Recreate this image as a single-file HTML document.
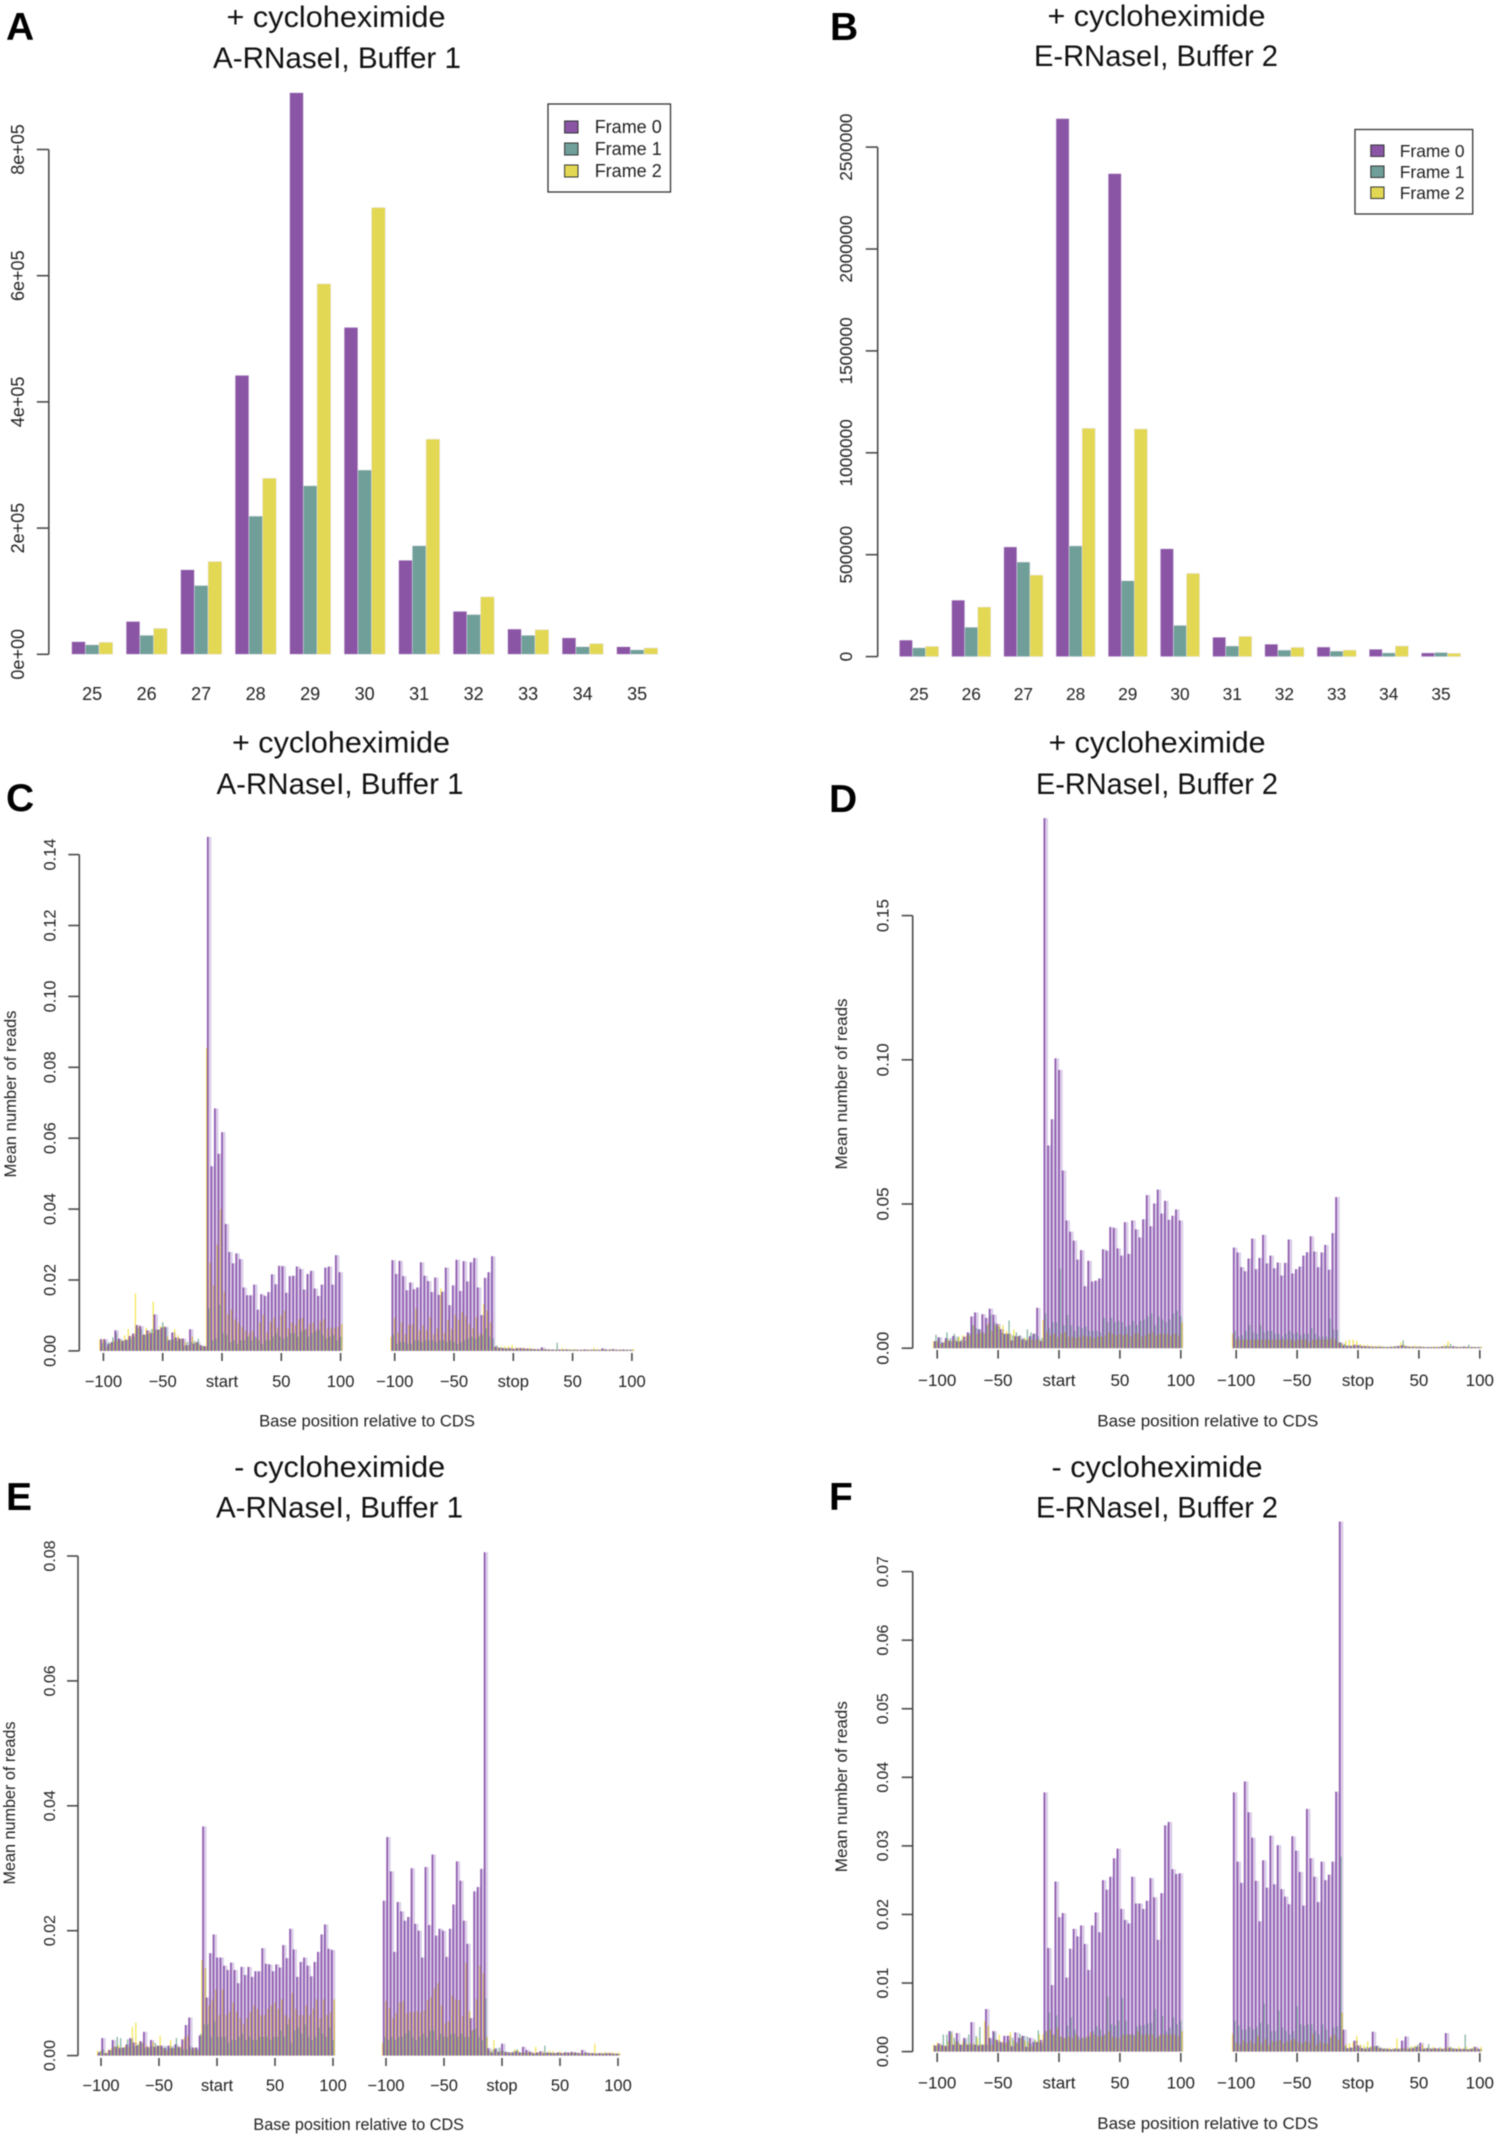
<!DOCTYPE html>
<html lang="en">
<head>
<meta charset="utf-8">
<title>Ribosome footprint frame distribution and metagene profiles</title>
<style>
html,body{margin:0;padding:0;background:#fff;}
body{width:1497px;height:2137px;overflow:hidden;}
svg{display:block;filter:blur(0.5px);font-family:"Liberation Sans",Arial,sans-serif;}
.title{font-size:30px;fill:#111;text-anchor:middle;}
.letter{font-size:39px;font-weight:bold;fill:#000;}
.legend-text{fill:#222;}
</style>
</head>
<body>
<svg id="figure" width="1497" height="2137" viewBox="0 0 1497 2137">
  <rect x="0" y="0" width="1497" height="2137" fill="#fff"/>

  <text class="letter" x="6" y="40">A</text>
  <text class="title" x="336" y="27" textLength="219" lengthAdjust="spacingAndGlyphs">+ cycloheximide</text>
  <text class="title" x="337" y="68" textLength="248" lengthAdjust="spacingAndGlyphs">A-RNaseI, Buffer 1</text>

  <text class="letter" x="830" y="40">B</text>
  <text class="title" x="1156.5" y="26" textLength="218" lengthAdjust="spacingAndGlyphs">+ cycloheximide</text>
  <text class="title" x="1156" y="66" textLength="244" lengthAdjust="spacingAndGlyphs">E-RNaseI, Buffer 2</text>

  <text class="letter" x="6" y="811">C</text>
  <text class="title" x="341" y="752.5" textLength="218" lengthAdjust="spacingAndGlyphs">+ cycloheximide</text>
  <text class="title" x="340" y="794" textLength="247" lengthAdjust="spacingAndGlyphs">A-RNaseI, Buffer 1</text>

  <text class="letter" x="829" y="812">D</text>
  <text class="title" x="1157" y="752.5" textLength="217" lengthAdjust="spacingAndGlyphs">+ cycloheximide</text>
  <text class="title" x="1157" y="794" textLength="242" lengthAdjust="spacingAndGlyphs">E-RNaseI, Buffer 2</text>

  <text class="letter" x="6" y="1510">E</text>
  <text class="title" x="339.7" y="1477" textLength="211" lengthAdjust="spacingAndGlyphs">- cycloheximide</text>
  <text class="title" x="339.5" y="1517.5" textLength="247" lengthAdjust="spacingAndGlyphs">A-RNaseI, Buffer 1</text>

  <text class="letter" x="829" y="1510">F</text>
  <text class="title" x="1157" y="1477" textLength="211" lengthAdjust="spacingAndGlyphs">- cycloheximide</text>
  <text class="title" x="1157" y="1517.5" textLength="242" lengthAdjust="spacingAndGlyphs">E-RNaseI, Buffer 2</text>

  <g>
    <rect x="548" y="104" width="122.5" height="88" fill="#fff" stroke="#333" stroke-width="1.3"/>
    <rect x="564.6" y="121" width="13.4" height="12" fill="#8a55a5" stroke="#333" stroke-width="1"/>
    <rect x="564.6" y="143" width="13.4" height="12" fill="#6f9f98" stroke="#333" stroke-width="1"/>
    <rect x="564.6" y="165" width="13.4" height="12" fill="#e3d853" stroke="#333" stroke-width="1"/>
    <text class="legend-text" x="594.7" y="133" font-size="18">Frame 0</text>
    <text class="legend-text" x="594.7" y="155" font-size="18">Frame 1</text>
    <text class="legend-text" x="594.7" y="177" font-size="18">Frame 2</text>
  </g>
  <g>
    <rect x="1355" y="129.5" width="117.7" height="84.5" fill="#fff" stroke="#333" stroke-width="1.3"/>
    <rect x="1370.8" y="145" width="13.2" height="11.5" fill="#8a55a5" stroke="#333" stroke-width="1"/>
    <rect x="1370.8" y="166" width="13.2" height="11.5" fill="#6f9f98" stroke="#333" stroke-width="1"/>
    <rect x="1370.8" y="187" width="13.2" height="11.5" fill="#e3d853" stroke="#333" stroke-width="1"/>
    <text class="legend-text" x="1399.8" y="157" font-size="17.4">Frame 0</text>
    <text class="legend-text" x="1399.8" y="178" font-size="17.4">Frame 1</text>
    <text class="legend-text" x="1399.8" y="199" font-size="17.4">Frame 2</text>
  </g>
</svg>

<script>
// ---- Read-length categories (panels A, B) ----
const readLengths = ["25","26","27","28","29","30","31","32","33","34","35"];

// Panel A: reads per frame by read length
const aFrame0 = [20000,52000,134000,442000,890000,518000,149000,68000,40000,26000,12000];
const aFrame1 = [15000,30000,109000,219000,267000,292000,172000,63000,30000,12000,7000];
const aFrame2 = [19000,41000,147000,279000,587000,708000,341000,91000,39000,17000,10000];
const aTickValues = [0,200000,400000,600000,800000];
const aTickLabels = ["0e+00","2e+05","4e+05","6e+05","8e+05"];

// Panel B: reads per frame by read length
const bFrame0 = [81000,277000,538000,2640000,2370000,529000,95000,61000,47000,36000,18000];
const bFrame1 = [43000,144000,464000,543000,372000,153000,52000,32000,27000,18000,20000];
const bFrame2 = [50000,243000,400000,1120000,1117000,408000,99000,45000,32000,52000,16000];
const bTickValues = [0,500000,1000000,1500000,2000000,2500000];
const bTickLabels = ["0","500000","1000000","1500000","2000000","2500000"];

// ---- Metagene profile tick labels ----
const startTickPositions = [-100,-50,0,50,100];
const startTickLabels = ["\u2212100","\u221250","start","50","100"];
const stopTickLabels = ["\u2212100","\u221250","stop","50","100"];

// Values below are mean reads x 1000, one per codon
// Panel C
const cTicks = ["0.00","0.02","0.04","0.06","0.08","0.10","0.12","0.14"];
const cStartF0 = [3.3,3.3,2,2.5,5.8,3.5,2.8,3.2,4.2,4.9,7.3,7,4.6,5.8,5,10.3,6,6.6,6.8,3,5.2,3.8,3.5,3.5,1.6,6.1,2.1,2.5,1.6,1.3,145,52.1,68.4,55.6,61.7,35.8,27.9,24.7,27.5,25.9,17.9,15.7,15.7,18.7,11.6,16,15.5,16.6,21.6,18.8,24,23.9,16.4,21.1,21.2,23.8,23.1,17.3,21.7,22.6,17.6,15.5,18.7,23.5,23.8,18.7,27,22.2];
const cStartF1 = [2.2,2.6,2.4,3.8,5.1,3.2,3,3,3.5,4,6.5,6.2,4.5,4.8,6.2,6,6,8.1,6.5,3.2,3.4,3,3.2,1.5,2.5,2.5,2.8,3.4,1.4,1.3,12,3,3.5,13,5,4.5,2.5,3,2,3,3,4,3,4,3,2,3,3,4,5,4,3.5,4,5,5,4,5.5,6,4,5,5.5,6,4.5,3.5,4,4.5,3,4];
const cStartF2 = [3.2,3.3,1.2,2.2,3,3,3,4.4,6.2,4.5,16.2,7,4.5,6.5,5.5,13.9,6,7,7,4,3,6.2,4.5,3.5,2.5,1.5,4,2.5,1.8,1.3,85.5,24.9,18.5,30,40,16.7,10.4,11.6,8.9,8,6.8,5.7,4.9,5.6,3.6,8,10.2,5.2,8.2,9.3,6.6,10,11.4,6.3,8,7.4,9,9.3,6.3,7.5,8,6.1,8.4,9,6.3,6.5,6.5,6.8,7.6];
const cStopF0 = [25.6,21.7,25.4,21.1,17.1,19.3,17.4,17.9,25,21.2,19.7,16.6,20.7,15.8,16.7,23.5,12.9,18.5,25.7,16.9,25.3,19.6,25,26.2,17.9,10.1,20.6,22.2,26.7,1.2,0.8,0.8,0.7,0.8,0.6,0.8,0.8,0.7,0.6,0.5,0.5,0.5,1,0.4,0.4,0.4,0.3,0.4,0.4,0.4,0.3,0.3,0.3,0.3,0.4,0.3,0.3,0.3,0.3,0.7,0.4,0.3,0.5,0.3,0.3,0.4,0.3,0.3];
const cStopF1 = [4.7,2,2.5,2.5,2,2,3,3,2.5,3,3,3,2.5,3,3,2.5,3,2.5,2,2.5,3,3.5,4,3.5,4,4.5,6.4,4,3.5,1.5,1,0.8,0.7,0.6,0.5,0.5,0.5,0.5,0.6,0.6,0.4,0.4,0.5,0.5,0.4,0.3,2.3,0.3,0.3,0.4,0.3,0.4,0.3,0.3,0.4,0.3,0.4,0.3,0.3,0.4,0.3,0.5,0.3,0.3,0.4,0.3,0.3,0.3];
const cStopF2 = [4,9.3,5.2,8,4.7,7.4,7.4,11.9,5.9,7.2,5.9,9.6,4.7,6.4,17.6,5.1,8.7,6.1,10.1,8.9,11,9.8,7.5,6.5,9.6,4.9,13.2,11.4,8,1.2,1,1.2,1.3,1.4,1.7,1,0.9,1,0.8,0.9,0.7,0.5,0.5,0.5,0.5,0.4,0.4,0.4,0.8,0.6,0.5,0.5,0.5,0.3,0.4,0.4,0.4,0.9,0.6,0.4,0.4,0.3,0.5,0.4,0.4,0.4,0.3,0.4,0.6];

// Panel D
const dTicks = ["0.00","0.05","0.10","0.15"];
const dStartF0 = [2.4,3.8,2,3.5,2.5,4.2,2.4,2.4,4,5.5,11,12.4,6.6,11.8,10.5,13.7,11.6,8.5,6.6,5,5,2.7,4.2,4.2,3.1,2.7,4.2,5,14,2.5,183.8,70.3,79.4,100.5,96.5,61.6,44.3,40.4,37.3,30.7,34,21.5,30.3,23.1,23.4,24.2,34.3,33.8,42,41.7,34.6,32.1,43.7,32.7,44.3,41.2,38.4,44.7,53.1,42.3,50.2,55,46.7,51.1,44.5,45.9,48.1,44.3];
const dStartF1 = [4.7,3.6,2,5.5,3.5,5,4,3,2.5,5,8,7,6.5,5.5,8,11.6,9,7.5,5.5,5,9.6,4.5,5.5,4.5,3.5,6.5,5.5,5,4,3.5,12.1,7,9,9,27.5,8,11.5,8,6,7.5,7,7.5,6,6,6,5.5,10.5,9,10.5,9,9.5,9,7.5,8,9.5,8,9.5,10,11,12,8,11,10,9,10,12,13,11];
const dStartF2 = [2.5,2.5,1.5,2.5,3,2.5,3,4,4.5,4.5,4.5,7.9,5,5.5,5,8.6,6,8,8,8,6,5,6.5,4,3,3.5,3.5,3,3,3,9.7,5.5,4.5,5,4,5,5.5,4,4,3.5,4,4.5,4,4,3.5,4,4,4.5,5.5,5,4.5,5,4.5,5,4,5,5,4,4.5,5,5.5,4.5,5,5,5,4.5,5,4.5,9];
const dStopF0 = [34.9,33.2,28.1,26.7,31.1,38,27.4,31.3,39.3,29.4,32.1,27.7,29.7,25.2,29.6,37.7,25.9,27.4,28.3,32.1,33.3,38.8,33.5,28.1,33.2,35.8,27.2,39.9,52.4,2,1,0.8,0.8,1.2,1,0.7,0.7,0.6,0.5,0.5,0.5,0.4,0.4,0.5,0.5,0.8,1,0.6,0.5,0.5,0.4,0.5,0.4,0.4,0.4,0.4,0.4,0.6,0.5,0.5,0.7,0.4,0.4,0.6,0.4,0.4,0.4,0.4];
const dStopF1 = [6,4,4.5,6,8,5.5,5,8,5.5,6,6,5,5,4,5,6,5,5.5,4.5,5,5,7,5,4,4,4,10.2,6.5,6.3,2,1.5,1,0.8,0.7,1,0.7,0.6,0.6,0.5,0.5,0.6,0.5,0.5,0.5,0.8,0.5,2.7,0.8,0.5,0.5,0.6,0.5,0.4,0.5,0.4,0.4,0.5,0.6,1,1.5,0.6,0.5,0.5,0.4,1.2,0.5,0.4,0.4];
const dStopF2 = [5,3,3,3,3,3,3,3,3,3,3,3,3,3,3,3,3,2.5,3,3,3,2,3,3,3,3,3,3.5,3,2,1.5,2.5,3,3,2.5,1.5,1.2,1.2,1,0.8,1,0.8,0.6,0.6,0.7,0.6,2,1.2,0.8,0.8,1,0.8,0.6,0.5,0.5,0.7,0.6,0.7,1.2,2.4,0.5,0.5,0.6,0.6,0.5,0.4,0.5,0.5,0.6];

// Panel E
const eTicks = ["0.00","0.02","0.04","0.06","0.08"];
const eStartF0 = [0.5,2.8,0.4,0.9,2.5,1.4,1.2,1.3,1.8,2.8,2.1,1.6,2.3,3.8,1.4,2.5,1.4,1.6,1.6,1.2,1.6,1.2,1.8,1.4,2.6,4.9,6.1,1.3,1.3,3.2,36.7,9.3,16.4,19.4,15.7,15.7,14.4,13.7,14.9,13.7,11.6,14.2,12.9,14.2,12.6,13.5,13.5,17.2,14.7,14.6,13.5,14.6,14.1,17.7,15.6,20.3,17,12.6,15,15.7,14.4,12.7,15,16.6,19.4,21,17.1,16.9];
const eStartF1 = [0.7,1,0.4,0.8,1.4,3,2.8,1.3,2.6,2.6,1.5,1.8,2,1.2,1.2,1.5,2,1.5,1.3,1.5,1.3,1.5,2.8,1.2,1,1,1.5,1,1,3.5,5,5,3,5.5,3,3,3,2,2.5,2.5,3,3.5,2.5,3,2.5,2.5,3,3,3,2.5,3,3,4,3,5,2,4,4.5,3.5,5,3,2.5,3,4.5,3.5,3,4.5,2.5];
const eStartF2 = [0.8,0.8,0.5,0.9,1.2,1.5,1.7,1.3,1.6,1.4,4.6,5.3,2.2,2,1.6,1.4,2.2,1.5,3.2,1.2,0.8,2.5,1.2,1.4,1.5,3,3.2,1,1.3,0.8,15.3,14,8,8.9,10.6,6.5,10.6,6.5,7,8.5,7,6,5,6,7,8,7.5,6.5,6.5,7.5,8,8.5,7.5,9,6.5,6,10,7.5,6.5,6.5,8,6.5,7.5,9,6,9,6.5,7,9];
const eStopF0 = [24.8,35,29.5,16.6,24.6,23.1,21.6,22.2,30,21.1,20,15.7,30.2,20.9,32.2,19.2,20.3,20,15.8,20.3,24.2,31.1,28,21.6,17.9,6,26.3,27,29.9,80.6,1.2,0.5,1.1,0.6,1.9,0.6,0.5,0.5,0.7,0.5,1.4,0.9,0.6,0.4,0.5,0.7,0.4,0.5,0.4,0.4,0.5,0.4,0.5,0.5,0.6,0.5,0.4,0.9,0.5,0.4,0.4,0.3,0.4,0.3,0.4,0.4,0.3,0.3];
const eStopF1 = [3,2.5,3,2.5,3,3,3.5,4,3,2.5,3,3.5,3,4,4,2.5,3.5,3,3,3.5,3.5,3,3.5,3,3,4,4.3,3,2.5,9.2,0.8,0.9,1.2,1.3,0.8,0.6,0.5,0.7,1,0.5,0.5,0.4,0.5,0.3,0.5,0.3,1.6,0.5,0.5,0.4,0.5,0.3,0.6,0.4,0.4,0.5,0.3,0.3,0.5,0.3,0.3,0.4,0.3,0.4,0.3,0.3,0.3,0.3];
const eStopF2 = [2,8.7,7.6,6,6.8,8.5,8.7,6.8,7,6.9,7.1,6.9,7.2,8.9,9.4,10.8,11.6,8,5.2,5.5,9.6,9,8.9,6.3,14.8,7.1,4.1,9,14.4,13.2,3,0.8,2.5,0.6,0.8,0.5,0.5,0.6,1,0.8,0.5,0.5,0.6,0.5,1.4,0.5,0.6,0.5,0.8,0.7,0.5,0.7,0.5,0.4,0.5,0.5,0.4,0.5,0.4,0.4,0.5,1.9,0.4,0.5,0.6,0.5,0.6,0.5,0.5];

// Panel F
const fTicks = ["0.00","0.01","0.02","0.03","0.04","0.05","0.06","0.07"];
const fStartF0 = [0.9,1.2,0.9,0.8,3,1,2.7,1,2,1,4.3,1,0.9,1,6.2,2,3,1.7,1.4,2.3,2.3,0.8,2.8,2,2.3,0.7,2,1.4,1.4,1.7,37.8,15.1,9.7,24.8,19.6,20.2,10.8,15,17.9,16.8,18.4,15.7,11.9,18.4,20.3,17.4,25,23.6,25.5,28.2,29.6,20.8,19.2,18.7,25.5,21.6,21.6,20.8,22,25.3,22.5,16.3,23.1,33,33.5,26.6,25.9,26];
const fStartF1 = [0.8,1,2.5,2.5,2.9,2,1.5,1,1.8,2.5,1,2.3,3.6,1,1,1.8,2.8,1.4,1.2,1.2,1.6,2,1.4,2.6,2.3,2.2,1.2,1.8,3.1,1.2,3,5.7,2.5,5.3,2.2,2,3.8,5,3.2,2.2,2,2,2.2,3,3.7,3.2,2.5,8,4,3.8,4.5,7.8,4.5,2.5,2.5,3.7,3.8,3.9,4.1,4.2,6.2,2.2,5.2,3,3.5,5,4,4.5];
const fStartF2 = [1,1.3,1,0.9,1.5,2.6,1.5,1.2,1.5,1.2,1.2,1.2,2,1.2,4.4,3.8,1,1.8,2.5,1.5,1.4,2.8,1.6,1.2,2,1.6,1.4,0.8,1.6,2.5,2.5,3,3.2,2.5,3.5,2.2,2,2.2,2,2.5,1.8,2,2.2,2.8,2.5,2.2,2.2,2.5,3,2.2,2,2,2.5,2.5,2.5,2.3,3,2.5,2.5,2.5,2.5,2,2.5,2.5,2.5,2.5,2.5,2.3,3];
const fStopF0 = [37.8,27.7,24.6,39.4,34.9,31.2,24.9,19,27.9,23.9,31.5,24.4,30.1,23.7,22.6,21.5,31.4,29.3,26.2,21.3,35.4,28.2,25.5,21.8,27.7,25,25.8,27.7,37.9,77.3,3.2,0.5,0.6,1.6,0.9,0.5,0.4,0.5,2.9,0.8,0.5,0.4,0.4,0.3,0.4,0.4,1.6,2.2,0.4,0.5,0.7,1.3,0.4,0.5,0.4,0.5,0.4,0.4,2.7,0.5,0.4,0.4,0.4,0.4,0.3,0.4,0.7,0.4];
const fStopF1 = [4.5,3.8,3.2,3.2,3.6,3.2,3.6,4.2,7,4,3,3,6,3.5,3,2.5,3,6.6,4,3.8,4,4,3,2.5,4,3.2,2,3.5,3.7,28.4,0.8,0.5,0.5,0.8,0.6,0.5,0.7,0.7,0.8,0.9,0.6,0.5,0.4,0.4,0.5,0.4,0.5,0.4,0.6,0.7,1,0.4,0.5,1.1,0.5,0.4,0.6,0.4,0.4,0.7,0.5,0.4,0.3,2.5,0.4,0.5,0.4,0.3];
const fStopF2 = [2.6,1.3,1,1.6,1.2,1.5,1.2,2.3,1.2,1.8,1,1.5,1.5,1.7,1.2,1.5,1.6,1.8,1.4,1.2,1.5,1.3,2.6,1,1.5,1.2,1.2,2.3,2.5,1.8,5.7,1,1.2,1.4,2.3,1,1,1.5,0.8,0.7,0.6,0.5,0.5,0.6,0.5,1.9,0.5,0.5,0.6,0.8,0.9,0.7,1,0.6,0.5,0.7,0.5,0.6,0.5,0.7,0.6,0.5,0.7,0.5,0.7,0.5,0.7,0.5,0.7];

// ---- Drawing ----
const svgNS = 'http://www.w3.org/2000/svg';
const figure = document.getElementById('figure');

function makeGroup(parent, name) {
  const g = document.createElementNS(svgNS, 'g');
  
  
  parent.appendChild(g);
  return g;
}

function makeRect(parent, name, x, y, w, h, fill) {
  const r = document.createElementNS(svgNS, 'rect');
  
  
  r.setAttribute('x', x);
  r.setAttribute('y', y);
  r.setAttribute('width', w);
  r.setAttribute('height', h);
  r.setAttribute('fill', fill);
  parent.appendChild(r);
  return r;
}

function makeLine(parent, name, x1, y1, x2, y2) {
  const l = document.createElementNS(svgNS, 'line');
  
  
  l.setAttribute('x1', x1);
  l.setAttribute('y1', y1);
  l.setAttribute('x2', x2);
  l.setAttribute('y2', y2);
  l.setAttribute('stroke', '#4a4a4a');
  l.setAttribute('stroke-width', '1.6');
  parent.appendChild(l);
  return l;
}

function makeText(parent, name, str, x, y, size, rotated) {
  const t = document.createElementNS(svgNS, 'text');
  
  
  t.setAttribute('text-anchor', 'middle');
  t.setAttribute('font-size', size);
  t.setAttribute('fill', '#222');
  if (rotated) {
    t.setAttribute('transform', 'translate(' + x + ' ' + y + ') rotate(-90)');
  } else {
    t.setAttribute('x', x);
    t.setAttribute('y', y);
  }
  t.textContent = str;
  parent.appendChild(t);
  return t;
}

const frameColors = ['#8a55a5', '#6f9f98', '#e3d853'];

function drawHistogram(c) {
  const g = makeGroup(figure, c.name);
  const yScale = v => c.y0 - v * c.pxPerUnit;
  const xCenter = i => c.x0 + i * c.step;
  makeLine(g, 'y-axis', c.axisX, yScale(c.tickValues[0]), c.axisX, yScale(c.tickValues[c.tickValues.length - 1]));
  c.tickValues.forEach((v, i) => {
    makeLine(g, 'y-tick', c.axisX - 12, yScale(v), c.axisX, yScale(v));
    makeText(g, 'y-tick-label', c.tickLabels[i], c.labelX, yScale(v), c.fontSize, true);
  });
  c.categories.forEach((cat, i) => {
    makeText(g, 'x-tick-label', cat, xCenter(i), c.xLabelY, c.fontSize, false);
    c.series.forEach((vals, s) => {
      const top = yScale(vals[i]);
      const bar = makeRect(g, 'bar-length-' + cat + '-frame-' + s, xCenter(i) + (s - 1.5) * c.barW, top, c.barW, c.y0 - top, frameColors[s]);
      bar.setAttribute('stroke', '#e9e2ee');
      bar.setAttribute('stroke-width', '0.5');
    });
  });
}

function drawProfile(c) {
  const g = makeGroup(figure, c.name);
  const yScale = v => c.y0 - v * c.pxPerMilli;
  makeLine(g, 'y-axis', c.axisX, yScale(parseFloat(c.yTicks[0]) * 1000), c.axisX, yScale(parseFloat(c.yTicks[c.yTicks.length - 1]) * 1000));
  c.yTicks.forEach(label => {
    const v = parseFloat(label) * 1000;
    makeLine(g, 'y-tick', c.axisX - 11, yScale(v), c.axisX, yScale(v));
    makeText(g, 'y-tick-label', label, c.yLabelX, yScale(v), c.yFont, true);
  });
  makeText(g, 'y-axis-title', 'Mean number of reads', c.yTitleX, c.yTitleY, c.titleFont, true);
  makeText(g, 'x-axis-title', 'Base position relative to CDS', c.xTitleX, c.xTitleY, c.titleFont, false);

  c.segments.forEach(seg => {
    const sg = makeGroup(g, 'profile-' + seg.key);
    const xScale = nt => seg.origin + nt * c.ntPx;
    const codon = 3 * c.ntPx;
    const under = makeGroup(sg, 'frame-0-shade');
    const yellow = makeGroup(sg, 'frame-2-bars');
    yellow.style.mixBlendMode = 'multiply';
    const teal = makeGroup(sg, 'frame-1-bars');
    const purple = makeGroup(sg, 'frame-0-bars');
    seg.f0.forEach((v, k) => {
      const nt = -102 + 3 * k;
      const top = yScale(v);
      makeRect(under, 'bar-shade', xScale(nt), top, codon, c.y0 - top, '#dccfe9');
    });
    seg.f2.forEach((v, k) => {
      const nt = -103 + 3 * k;
      const top = yScale(v);
      makeRect(yellow, 'bar-frame-2', xScale(nt) - 0.6, top, 1.2, c.y0 - top, '#f4e44c');
    });
    seg.f1.forEach((v, k) => {
      const nt = -101 + 3 * k;
      const top = yScale(v);
      makeRect(teal, 'bar-frame-1', xScale(nt) - 0.6, top, 1.2, c.y0 - top, '#7cb09c');
    });
    seg.f0.forEach((v, k) => {
      const nt = -102 + 3 * k;
      const top = yScale(v);
      makeRect(purple, 'bar-frame-0', xScale(nt) - 0.85, top, 1.7, c.y0 - top, '#8d58ae');
    });
    startTickPositions.forEach((nt, i) => {
      makeLine(sg, 'x-tick', xScale(nt), c.tickTop, xScale(nt), c.tickBottom);
      makeText(sg, 'x-tick-label', seg.labels[i], xScale(nt), c.xLabelY, c.xFont, false);
    });
  });
}

drawHistogram({ name:'panel-a-frame-histogram', categories:readLengths, series:[aFrame0,aFrame1,aFrame2],
  tickValues:aTickValues, tickLabels:aTickLabels, x0:92.2, step:54.5, barW:13.7, y0:654.3, pxPerUnit:126.2/200000,
  axisX:48.8, labelX:24, xLabelY:700, fontSize:18 });

drawHistogram({ name:'panel-b-frame-histogram', categories:readLengths, series:[bFrame0,bFrame1,bFrame2],
  tickValues:bTickValues, tickLabels:bTickLabels, x0:919, step:52.2, barW:13.05, y0:656.6, pxPerUnit:101.9/500000,
  axisX:877.7, labelX:852, xLabelY:700, fontSize:17.3 });

drawProfile({ name:'panel-c-metagene', yTicks:cTicks, y0:1350.9, pxPerMilli:3.545, axisX:79.3, yLabelX:55.5, yFont:16.4,
  yTitleX:16, yTitleY:1094, titleFont:16.6, xTitleX:367, xTitleY:1426.5, ntPx:1.186, tickTop:1353, tickBottom:1361, xLabelY:1387, xFont:16.6,
  segments:[{key:'start', origin:222, labels:startTickLabels, f0:cStartF0, f1:cStartF1, f2:cStartF2},
            {key:'stop', origin:513.3, labels:stopTickLabels, f0:cStopF0, f1:cStopF1, f2:cStopF2}] });

drawProfile({ name:'panel-d-metagene', yTicks:dTicks, y0:1348.2, pxPerMilli:2.884, axisX:912.7, yLabelX:888.5, yFont:17,
  yTitleX:847, yTitleY:1084, titleFont:17, xTitleX:1207.8, xTitleY:1426.5, ntPx:1.218, tickTop:1350, tickBottom:1358.6, xLabelY:1386, xFont:17,
  segments:[{key:'start', origin:1059, labels:startTickLabels, f0:dStartF0, f1:dStartF1, f2:dStartF2},
            {key:'stop', origin:1358, labels:stopTickLabels, f0:dStopF0, f1:dStopF1, f2:dStopF2}] });

drawProfile({ name:'panel-e-metagene', yTicks:eTicks, y0:2055.6, pxPerMilli:6.245, axisX:78, yLabelX:55, yFont:16,
  yTitleX:15, yTitleY:1803, titleFont:16.2, xTitleX:358.7, xTitleY:2130, ntPx:1.16, tickTop:2058, tickBottom:2066, xLabelY:2091, xFont:16.5,
  segments:[{key:'start', origin:217, labels:startTickLabels, f0:eStartF0, f1:eStartF1, f2:eStartF2},
            {key:'stop', origin:502, labels:stopTickLabels, f0:eStopF0, f1:eStopF1, f2:eStopF2}] });

drawProfile({ name:'panel-f-metagene', yTicks:fTicks, y0:2051.6, pxPerMilli:6.857, axisX:912.7, yLabelX:888, yFont:15.9,
  yTitleX:847, yTitleY:1786.7, titleFont:17, xTitleX:1207.8, xTitleY:2129, ntPx:1.218, tickTop:2053, tickBottom:2062, xLabelY:2088.5, xFont:17,
  segments:[{key:'start', origin:1059, labels:startTickLabels, f0:fStartF0, f1:fStartF1, f2:fStartF2},
            {key:'stop', origin:1358, labels:stopTickLabels, f0:fStopF0, f1:fStopF1, f2:fStopF2}] });
</script>
</body>
</html>
